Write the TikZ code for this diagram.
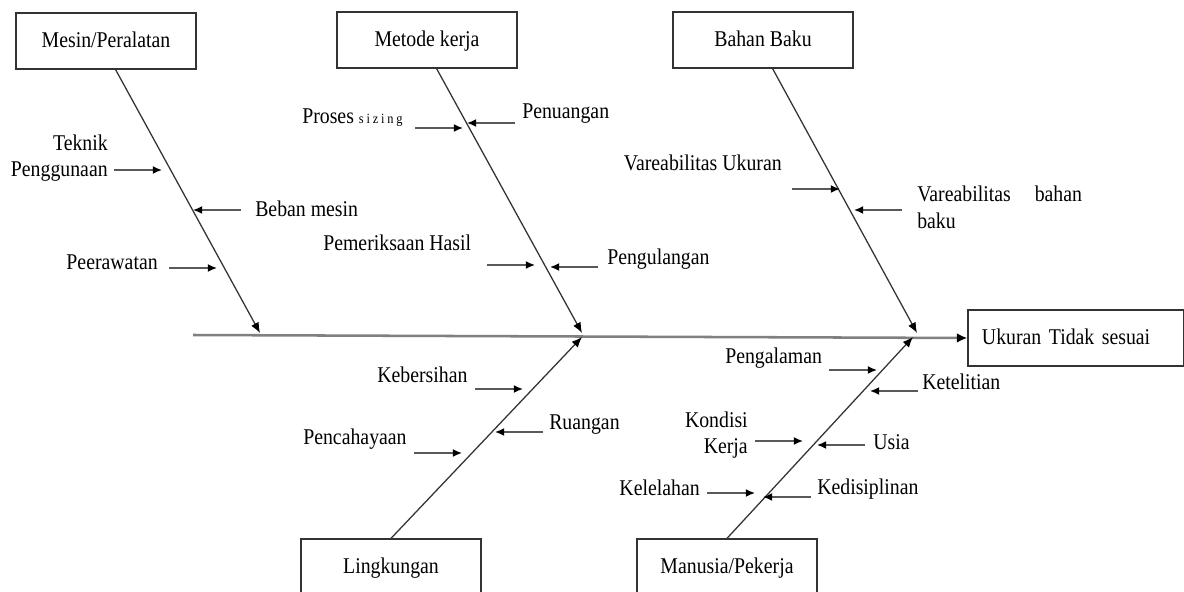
\documentclass[tikz,border=0pt]{standalone}
\usepackage{fontspec}
\setmainfont{Liberation Serif}[FakeStretch=0.88]
\usetikzlibrary{arrows.meta,calc}
\newcommand\lblfont{\fontsize{16}{19}\selectfont}
\tikzset{
  cause/.style={draw=black!80, line width=0.9pt, minimum width=4.5cm, minimum height=1.4cm, inner sep=0pt, text depth=0.25em, font=\lblfont},
  lbl/.style={inner sep=0pt, font=\lblfont},
  bone/.style={draw=black!80, line width=0.9pt, -{Latex[length=2.6mm, width=2.1mm, color=black]}},
  spine/.style={draw=black!50, line width=1.8pt, -{Latex[length=2.6mm, width=2.4mm, color=black]}},
  sub/.style={draw=black!65, line width=1pt, -{Latex[length=2.3mm, width=2mm, color=black]}}
}
\begin{document}
\begin{tikzpicture}[x=0.025cm, y=-0.025cm]
  \useasboundingbox (0,0) rectangle (1184,592);

  \node[cause] (mesin) at (106,41) {Mesin/Peralatan};
  \node[cause] (metode) at (427,40) {Metode kerja};
  \node[cause] (bahan) at (763,40) {Bahan Baku};
  \node[cause] (lingk) at (391,567) {Lingkungan};
  \node[cause] (manusia) at (727,567) {Manusia/Pekerja};
  \node[cause, minimum width=5.4cm, text width=4.7cm, align=left] (effect) at (1076,338) {Ukuran Tidak sesuai};

  \coordinate (tail) at (193,335);
  \coordinate (h1) at (260,333);
  \coordinate (h2) at (582,333);
  \coordinate (h3) at (917,333);
  \coordinate (h4) at (582,337);
  \coordinate (h5) at (913,337);

  \draw[spine] (tail) -- (effect.west);
  \draw[bone] ([xshift=0.24cm]mesin.south) -- (h1);
  \draw[bone] ([xshift=0.24cm]metode.south) -- (h2);
  \draw[bone] ([xshift=0.24cm]bahan.south) -- (h3);
  \draw[bone] (lingk.north) -- (h4);
  \draw[bone] (manusia.north) -- (h5);

  \foreach \n/\x/\y in {tk/162/170, bm/193/210, pr/217/268, ps/463/128, pn/467/123,
      ph/535/265, pu/550/267, vu/840/189, vb/854/210, kb/523/389, ru/495/432,
      pc/462/453, pg/877/370, kt/870/391, kk/803/441, us/817/445, kl/755/493, kd/763/497}
    \coordinate (\n) at (\x,\y);
  \foreach \n in {tk,pr,ps,ph,vu,kb,pc,pg,kk,kl}
    \draw[sub] ($(\n)+(-48,0)$) -- (\n);
  \foreach \n in {bm,pn,pu,vb,ru,kt,us,kd}
    \draw[sub] ($(\n)+(48,0)$) -- (\n);

  \node[lbl, align=right, anchor=east] (teknik) at (108,158) {Teknik\\Penggunaan};
  \node[lbl, anchor=west] (beban) at (255,209) {Beban mesin};
  \node[lbl, anchor=east] (rawat) at (158,262) {Peerawatan};
  \node[lbl, anchor=west] (proses) at (302,118) {Proses {\fontsize{10}{11}\selectfont\addfontfeature{LetterSpace=20}sizing}};
  \node[lbl, anchor=west] (tuang) at (522,114) {Penuangan};
  \node[lbl, anchor=west] (periksa) at (323,243) {Pemeriksaan Hasil};
  \node[lbl, anchor=west] (ulang) at (607,259) {Pengulangan};
  \node[lbl, anchor=east] (varukur) at (782,163) {Vareabilitas Ukuran};
  \node[lbl, anchor=west, align=left] (varbahan) at (917,207) {Vareabilitas\hspace{0.6cm}bahan\\baku};
  \node[lbl, anchor=west] (bersih) at (377,375) {Kebersihan};
  \node[lbl, anchor=west] (ruang) at (549,425) {Ruangan};
  \node[lbl, anchor=west] (cahaya) at (303,439) {Pencahayaan};
  \node[lbl, anchor=west] (alam) at (725,358) {Pengalaman};
  \node[lbl, anchor=west] (teliti) at (922,382) {Ketelitian};
  \node[lbl, anchor=east, align=right] (kondisi) at (748,435) {Kondisi\\Kerja};
  \node[lbl, anchor=west] (usia) at (873,442) {Usia};
  \node[lbl, anchor=east] (lelah) at (700,488) {Kelelahan};
  \node[lbl, anchor=west] (disiplin) at (817,489) {Kedisiplinan};
\end{tikzpicture}
\end{document}
